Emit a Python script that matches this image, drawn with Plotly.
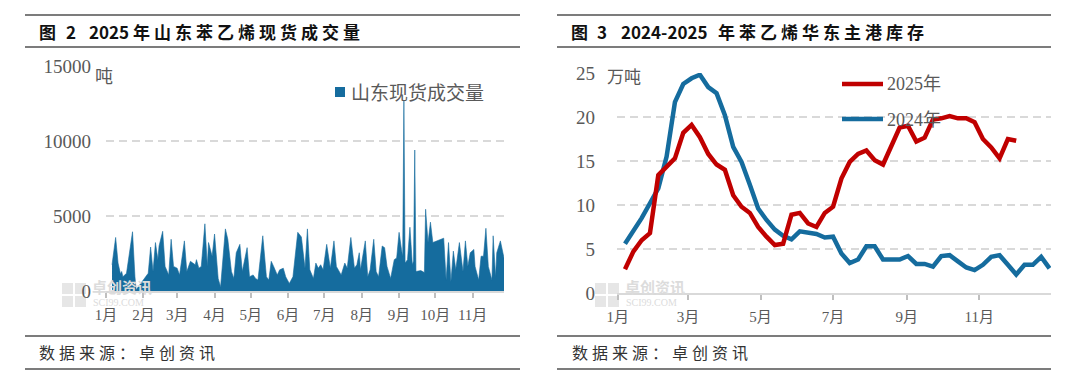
import plotly.graph_objects as go
import pandas as pd

W, H = 1080, 381


def fx(x):
    return x / W


def fy(y):
    return 1 - y / H


BLUE = "#156C9E"
RED = "#C00000"
GRID = "#D9D9D9"
GRAY_TXT = "#595959"
SERIF = "Liberation Serif, Noto Sans CJK SC, serif"
CJK = "Noto Sans CJK SC, sans-serif"

# ---------------- data: left chart (Shandong spot volume, tons) ----------------
vol_doy = [
    5, 8, 10, 12, 13, 14, 17, 19, 20, 22, 24, 25,
    35, 37, 39, 41, 43, 44, 47, 49, 52, 54, 56, 59,
    61, 65, 67, 70, 72, 74, 75, 77, 79, 82, 84, 85,
    88, 90, 93, 95, 99, 101, 104, 106, 108, 111, 113, 117,
    119, 122, 124, 126, 130, 133, 135, 137, 139, 142, 144, 147,
    149, 152, 155, 159, 162, 165, 167, 169, 172, 174, 176, 178,
    180, 183, 186, 188, 189, 191, 193, 195, 198, 200, 203, 206,
    208, 210, 211, 215, 217, 219, 222, 224, 226, 229, 231, 233,
    236, 239, 241, 243, 245, 246, 247, 248, 250, 252, 254, 255,
    256, 257, 261, 264, 265, 267, 269, 271, 280, 282, 284, 286,
    288, 290, 293, 296, 298, 300, 302, 305, 306, 309, 311, 313,
    315, 317, 320, 321, 323, 324, 327, 328, 330,
]
vol_values = [
    1750, 3570, 1860, 1140, 1300, 950, 1180, 2320, 2550, 3950, 950, 80,
    1180, 2930, 1300, 3230, 2090, 3000, 3980, 1640, 1070, 3450, 1640, 1520,
    1070, 3340, 1300, 1980, 1860, 1750, 2090, 1520, 1640, 4480, 1640, 3230,
    2320, 3800, 840, 270, 4140, 3450, 1300, 840, 2550, 3110, 1300, 2890,
    950, 1070, 840, 730, 3680, 950, 730, 1980, 1640, 1070, 1410, 1520,
    950, 500, 950, 3910, 3600, 1520, 4140, 1410, 840, 1860, 1520, 1750,
    1410, 3110, 1520, 2550, 3340, 1640, 1300, 1070, 1860, 1520, 3570, 1520,
    1750, 2550, 1410, 3340, 950, 1410, 3450, 1300, 950, 3000, 2890, 1640,
    840, 2090, 2200, 3910, 2770, 2300, 12700, 1860, 2090, 4250, 1750, 2000,
    9400, 1300, 1360, 1230, 5450, 3230, 4590, 3230, 3520, 730, 3230, 610,
    2660, 1410, 3230, 1300, 3340, 1640, 2550, 2770, 1640, 730, 2320, 2320,
    4180, 1640, 730, 3680, 950, 2550, 3340, 3000, 2200,
]
vol_dates = pd.Timestamp("2025-01-01") + pd.to_timedelta(vol_doy, unit="D")
left_month_starts = pd.date_range("2025-01-01", "2025-11-01", freq="MS")
left_month_labels = ["1月", "2月", "3月", "4月", "5月", "6月", "7月", "8月", "9月", "10月", "11月"]
left_y_ticks = [0, 5000, 10000, 15000]
left_y_labels = ["0", "5000", "10000", "15000"]

# ---------------- data: right chart (East China port inventory, 10k tons) -------
inv_2024 = [
    5.6, 7.0, 8.5, 10.2, 11.9, 15.5, 21.7, 23.75, 24.4, 24.8,
    23.4, 22.7, 20.2, 16.6, 14.9, 12.3, 9.6, 8.3, 7.2, 6.5,
    6.1, 7.0, 6.9, 6.7, 6.3, 6.4, 4.5, 3.4, 3.8, 5.3,
    5.3, 3.8, 3.8, 3.8, 4.2, 3.3, 3.3, 3.0, 4.2, 4.3,
    3.6, 2.9, 2.6, 3.2, 4.1, 4.3, 3.2, 2.1, 3.2, 3.2,
    4.1, 2.8,
]
inv_2025 = [
    2.7, 4.7, 6.0, 6.8, 13.4, 14.4, 15.3, 18.2, 19.1, 17.7,
    15.8, 14.6, 14.0, 11.1, 9.8, 9.1, 7.5, 6.4, 5.45, 5.6,
    8.9, 9.1, 7.9, 7.5, 9.1, 9.8, 13.0, 14.9, 15.8, 16.2,
    15.1, 14.6, 16.7, 18.8, 19.0, 17.2, 17.65, 19.7, 19.85, 20.1,
    19.85, 19.85, 19.4, 17.5, 16.55, 15.3, 17.5, 17.3,
]
week_2024 = list(range(1, len(inv_2024) + 1))
week_2025 = list(range(1, len(inv_2025) + 1))
right_month_doy = [0, 59, 120, 181, 243, 304]
right_month_labels = ["1月", "3月", "5月", "7月", "9月", "11月"]
first_week_doy = 6
right_tickvals = [1 + (d - first_week_doy) / 7 for d in right_month_doy]

fig = go.Figure()

fig.add_trace(go.Scatter(
    x=vol_dates, y=vol_values, mode="lines", fill="tozeroy",
    line=dict(color=BLUE, width=0.6), fillcolor=BLUE,
    name="山东现货成交量", showlegend=False, xaxis="x", yaxis="y",
))
fig.add_trace(go.Scatter(
    x=week_2024, y=inv_2024, mode="lines", line=dict(color=BLUE, width=4.5),
    name="2024年", showlegend=False, xaxis="x2", yaxis="y2",
))
fig.add_trace(go.Scatter(
    x=week_2025, y=inv_2025, mode="lines", line=dict(color=RED, width=4.5),
    name="2025年", showlegend=False, xaxis="x2", yaxis="y2",
))

axis_common_x = dict(
    showline=True, linecolor=GRID, linewidth=2, showgrid=False, zeroline=False,
    ticks="outside", ticklen=5, tickwidth=1.5, tickcolor="#BFBFBF", automargin=False,
    tickfont=dict(family=SERIF, size=15, color=GRAY_TXT), ticklabelstandoff=4,
)
axis_common_y = dict(
    showline=False, zeroline=False, showgrid=True, gridcolor=GRID, gridwidth=1.5,
    griddash="8px,5px", tickfont=dict(family=SERIF, size=19, color=GRAY_TXT),
    ticks="", automargin=False,
)

fig.update_layout(
    width=W, height=H, autosize=False,
    margin=dict(l=0, r=0, t=0, b=0, pad=0, autoexpand=False),
    paper_bgcolor="white", plot_bgcolor="white", showlegend=False,
    xaxis=dict(
        domain=[fx(106), fx(504)], anchor="y", type="date",
        range=[pd.Timestamp("2025-01-01"), pd.Timestamp("2025-01-01") + pd.Timedelta(days=330)],
        tickmode="array", tickvals=left_month_starts, ticktext=left_month_labels,
        **axis_common_x,
    ),
    yaxis=dict(
        domain=[fy(291), fy(66)], anchor="x", range=[0, 15000],
        tickmode="array", tickvals=left_y_ticks, ticktext=left_y_labels,
        ticklabelstandoff=14, **axis_common_y,
    ),
    xaxis2=dict(
        domain=[fx(617), fx(1051)], anchor="y2", range=[0.04, 52.18],
        tickmode="array", tickvals=right_tickvals, ticktext=right_month_labels,
        **axis_common_x,
    ),
    yaxis2=dict(
        domain=[fy(293), fy(73)], anchor="x2", range=[0, 25],
        tickmode="array", tickvals=[0, 5, 10, 15, 20, 25],
        ticklabelstandoff=21, **axis_common_y,
    ),
)

shapes = []
for (x0, x1) in [(25, 520), (557, 1051)]:
    for yy in (15, 47, 336, 369):
        shapes.append(dict(type="line", xref="paper", yref="paper", x0=fx(x0), x1=fx(x1),
                           y0=fy(yy), y1=fy(yy), line=dict(color="#505050", width=1.5)))
# left legend swatch
shapes.append(dict(type="rect", xref="paper", yref="paper", x0=fx(335), x1=fx(345),
                   y0=fy(97), y1=fy(87), fillcolor=BLUE, line=dict(width=0)))
# right legend swatches
shapes.append(dict(type="line", xref="paper", yref="paper", x0=fx(842), x1=fx(883),
                   y0=fy(84), y1=fy(84), line=dict(color=RED, width=4.5)))
shapes.append(dict(type="line", xref="paper", yref="paper", x0=fx(842), x1=fx(883),
                   y0=fy(119), y1=fy(119), line=dict(color=BLUE, width=4.5)))
# watermark logo blocks
for lx in (62, 595):
    for (a, b, c, d) in [(0, 11, 0, 11), (13, 24, 0, 11), (0, 11, 13, 24), (13, 24, 13, 24)]:
        shapes.append(dict(type="rect", xref="paper", yref="paper", x0=fx(lx + a), x1=fx(lx + b),
                           y0=fy(283 + d), y1=fy(283 + c), fillcolor="#E6E6E6", line=dict(width=0),
                           layer="below"))
fig.update_layout(shapes=shapes)


def ann(x, y, text, size, color, family=CJK, xanchor="left"):
    fig.add_annotation(x=fx(x), y=fy(y), xref="paper", yref="paper", text=text, showarrow=False,
                       xanchor=xanchor, yanchor="middle", borderpad=0,
                       font=dict(family=family, size=size, color=color))


sp = '<span style="letter-spacing:4px">{}</span>'
# titles (pieces placed as in the reference; letter spacing only on the CJK run)
for (x, t) in [(38, "图"), (65, "2"), (88, "2025"), (132, "年山东苯乙烯现货成交量")]:
    ann(x, 31, "<b>" + (sp.format(t) if t[0] == "年" else t) + "</b>", 17, "#111111")
for (x, t) in [(570, "图"), (596, "3"), (620, "2024-2025"), (717, "年苯乙烯华东主港库存")]:
    ann(x, 31, "<b>" + (sp.format(t) if t[0] == "年" else t) + "</b>", 17, "#111111")
ann(38, 352, sp.format("数据来源：卓创资讯"), 16, "#333333")
ann(571, 352, sp.format("数据来源：卓创资讯"), 16, "#333333")

# units
ann(94, 75, "吨", 18, GRAY_TXT)
ann(606, 76, "万吨", 17, GRAY_TXT)

# legends
ann(350, 92, "山东现货成交量", 19, GRAY_TXT)
ann(886, 84, "2025年", 18, GRAY_TXT, family=SERIF)
ann(886, 120, "2024年", 18, GRAY_TXT, family=SERIF)

# watermarks
for wx in (91, 624):
    ann(wx, 286, "<b>卓创资讯</b>", 15, "#DCDCDC")
    ann(wx + 1, 302, "SCI99.COM", 10, "#DCDCDC", family=SERIF)

fig.write_html(
    "out.html",
    config={"displayModeBar": False},
    post_script="document.body.style.margin='0';document.body.style.padding='0';"
                "document.documentElement.style.overflow='hidden';",
)
